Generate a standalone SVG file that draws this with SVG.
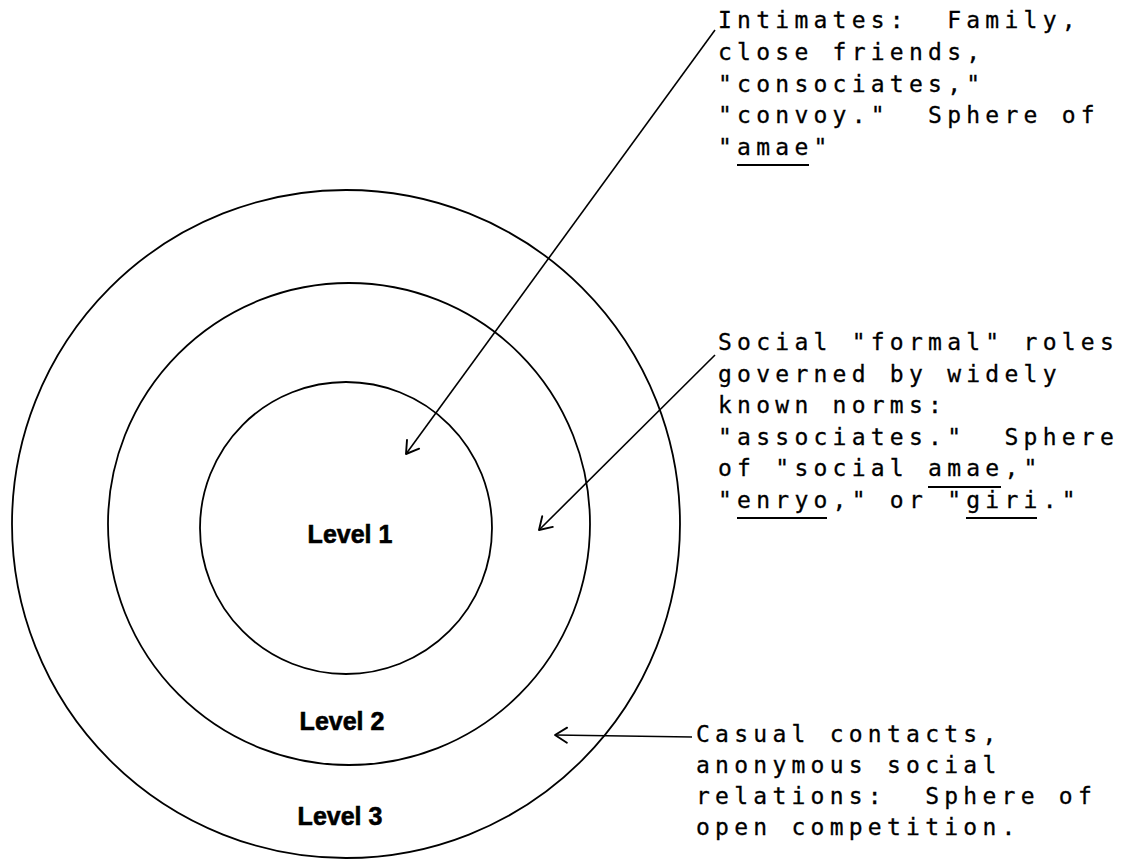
<svg xmlns="http://www.w3.org/2000/svg" width="1125" height="859" viewBox="0 0 1125 859">
<style>
.ring{fill:none;stroke:#000;stroke-width:1.8}
.lead{fill:none;stroke:#000;stroke-width:1.6}
.lvl{font-family:"Liberation Sans",Arial,sans-serif;font-weight:bold;font-size:25px;fill:#000;stroke:#000;stroke-width:0.6;text-anchor:middle}
.note{font-family:"DejaVu Sans Mono","Liberation Mono",monospace;font-size:23px;letter-spacing:5.25px;fill:#000;stroke:#000;stroke-width:0.3;white-space:pre}
.ul{stroke:#000;stroke-width:1.8}
</style>
<defs>
<marker id="open" markerUnits="userSpaceOnUse" markerWidth="30" markerHeight="30" refX="0" refY="0" viewBox="-15 -15 30 30" orient="auto" overflow="visible">
<path d="M -12 -7.5 L 0 0 L -12 7.5" fill="none" stroke="#000" stroke-width="1.9" stroke-linecap="round" stroke-linejoin="round"/>
</marker>
</defs>
<rect width="1125" height="859" fill="#fff"/>
<g id="level3">
<circle class="ring" cx="346" cy="524" r="334"/>
<text class="lvl" x="340" y="825">Level 3</text>
</g>
<g id="level2">
<circle class="ring" cx="349" cy="524" r="241"/>
<text class="lvl" x="342" y="730">Level 2</text>
</g>
<g id="level1">
<circle class="ring" cx="346" cy="528" r="146"/>
<text class="lvl" x="350" y="543">Level 1</text>
</g>
<g id="note-intimates">
<text class="note" xml:space="preserve"><tspan x="718" y="28">Intimates:  Family,</tspan><tspan x="718" y="60">close friends,</tspan><tspan x="718" y="92">"consociates,"</tspan><tspan x="718" y="123">"convoy."  Sphere of</tspan><tspan x="718" y="155">"amae"</tspan></text>
<line class="ul" x1="737" y1="165" x2="809" y2="165"/>
</g>
<g id="note-social">
<text class="note" xml:space="preserve"><tspan x="718" y="350">Social "formal" roles</tspan><tspan x="718" y="382">governed by widely</tspan><tspan x="718" y="413">known norms:</tspan><tspan x="718" y="445">"associates."  Sphere</tspan><tspan x="718" y="476">of "social amae,"</tspan><tspan x="718" y="508">"enryo," or "giri."</tspan></text>
<line class="ul" x1="928" y1="487" x2="1001" y2="487"/>
<line class="ul" x1="737" y1="518" x2="827" y2="518"/>
<line class="ul" x1="966" y1="518" x2="1037" y2="518"/>
</g>
<g id="note-casual">
<text class="note" xml:space="preserve"><tspan x="696" y="742">Casual contacts,</tspan><tspan x="696" y="773">anonymous social</tspan><tspan x="696" y="804">relations:  Sphere of</tspan><tspan x="696" y="835">open competition.</tspan></text>
</g>
<g id="connectors">
<line class="lead" x1="715" y1="30" x2="406" y2="454" marker-end="url(#open)"/>
<line class="lead" x1="715" y1="355" x2="539" y2="530" marker-end="url(#open)"/>
<line class="lead" x1="692" y1="737" x2="555" y2="735" marker-end="url(#open)"/>
</g>
</svg>
